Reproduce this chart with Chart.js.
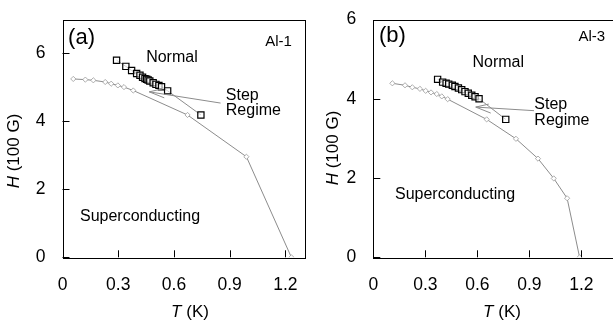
<!DOCTYPE html>
<html>
<head>
<meta charset="utf-8">
<script src="https://cdn.jsdelivr.net/npm/chart.js@4/dist/chart.umd.min.js"></script>
<style>
  html, body { margin: 0; padding: 0; background: #fff; overflow: hidden; }
  .wrap { position: relative; width: 613px; height: 322px; overflow: hidden; }
  .panel { position: absolute; top: 0; height: 322px; }
  #panelA { left: 0; width: 310px; }
  #panelB { left: 305px; width: 320px; }
</style>
</head>
<body>
<div class="wrap">
  <div class="panel" id="panelA"><canvas id="chartA"></canvas></div>
  <div class="panel" id="panelB"><canvas id="chartB"></canvas></div>
</div>
<script>
// ── Data ──
// Panel (a), sample Al-1
const aCurveT  = [0.058, 0.123, 0.166, 0.230, 0.262, 0.298, 0.331, 0.381, 0.673, 0.990, 1.232];
const aCurveH  = [5.25, 5.23, 5.21, 5.16, 5.11, 5.06, 5.01, 4.91, 4.19, 2.96, 0.0];
const aStepT   = [0.291, 0.341, 0.372, 0.399, 0.417, 0.431, 0.444, 0.453, 0.461, 0.470, 0.488, 0.503, 0.519, 0.533, 0.566, 0.745];
const aStepH   = [5.80, 5.62, 5.50, 5.41, 5.36, 5.30, 5.26, 5.24, 5.22, 5.19, 5.14, 5.09, 5.06, 5.02, 4.90, 4.19];

// Panel (b), sample Al-3
const bCurveT  = [0.110, 0.183, 0.225, 0.269, 0.302, 0.333, 0.366, 0.395, 0.429, 0.654, 0.823, 0.950, 1.041, 1.118, 1.190];
const bCurveH  = [4.39, 4.34, 4.29, 4.25, 4.20, 4.16, 4.12, 4.06, 3.99, 3.48, 2.99, 2.49, 1.99, 1.49, 0.0];
const bStepT   = [0.371, 0.400, 0.420, 0.435, 0.456, 0.471, 0.491, 0.510, 0.529, 0.548, 0.568, 0.587, 0.610, 0.764];
const bStepH   = [4.49, 4.42, 4.39, 4.37, 4.34, 4.31, 4.27, 4.23, 4.18, 4.14, 4.09, 4.05, 4.00, 3.48];

const xTickValues = [0, 0.3, 0.6, 0.9, 1.2];
const xTickLabels = ['0', '0.3', '0.6', '0.9', '1.2'];
const yTickValues = [0, 2, 4, 6];

const FONT = '"Liberation Sans", Arial, Helvetica, sans-serif';
const GREY = '#8c8c8c';

const toXY = (ts, hs) => ts.map((t, i) => ({ x: t, y: hs[i] }));

// ── Frame, inward ticks, labels and the step-regime pointer ──
const decorPlugin = {
  id: 'decor',
  afterDraw(chart, args, o) {
    const { ctx, chartArea: a, scales: { x, y } } = chart;
    ctx.save();

    // box round the plot
    ctx.strokeStyle = '#000';
    ctx.lineWidth = 1;
    ctx.strokeRect(Math.round(a.left) + 0.5, Math.round(a.top) + 0.5,
                   Math.round(a.right - a.left), Math.round(a.bottom - a.top));

    // inward tick marks on left and bottom axes
    ctx.beginPath();
    xTickValues.forEach(v => {
      const px = Math.round(x.getPixelForValue(v)) + 0.5;
      ctx.moveTo(px, a.bottom); ctx.lineTo(px, a.bottom - 7);
    });
    yTickValues.forEach(v => {
      const py = Math.round(y.getPixelForValue(v)) + 0.5;
      ctx.moveTo(a.left, py); ctx.lineTo(a.left + 7, py);
    });
    ctx.stroke();

    // text annotations (positions in data units)
    ctx.fillStyle = '#000';
    ctx.textBaseline = 'middle';
    o.texts.forEach(tx => {
      ctx.font = tx.size + 'px ' + FONT;
      ctx.textAlign = tx.align || 'left';
      ctx.fillText(tx.text, x.getPixelForValue(tx.t), y.getPixelForValue(tx.h));
    });

    // pointer line + small wedge arrowhead
    const p = o.pointer;
    const tipX = x.getPixelForValue(p.tip[0]), tipY = y.getPixelForValue(p.tip[1]);
    const endX = x.getPixelForValue(p.end[0]), endY = y.getPixelForValue(p.end[1]);
    ctx.strokeStyle = GREY;
    ctx.beginPath();
    ctx.moveTo(endX, endY); ctx.lineTo(tipX, tipY);
    ctx.lineTo(tipX + 13, tipY - 3);
    ctx.moveTo(tipX, tipY); ctx.lineTo(tipX + 15, tipY + 6);
    ctx.stroke();

    // axis titles with italic symbols
    ctx.fillStyle = '#000';
    ctx.textAlign = 'left';
    const drawMixed = (parts, cx, cy) => {
      let w = 0;
      parts.forEach(pt => { ctx.font = pt[1] + '17px ' + FONT; w += ctx.measureText(pt[0]).width; });
      let cur = cx - w / 2;
      parts.forEach(pt => {
        ctx.font = pt[1] + '17px ' + FONT;
        ctx.fillText(pt[0], cur, cy);
        cur += ctx.measureText(pt[0]).width;
      });
    };
    drawMixed([['T', 'italic '], [' (K)', '']], o.xTitle[0], o.xTitle[1]);
    ctx.save();
    ctx.translate(o.yTitle[0], o.yTitle[1]);
    ctx.rotate(-Math.PI / 2);
    drawMixed([['H', 'italic '], [' (100 G)', '']], 0, 0);
    ctx.restore();

    ctx.restore();
  }
};

function makePanel(canvasId, cfg) {
  new Chart(document.getElementById(canvasId), {
    type: 'scatter',
    data: {
      datasets: [
        {
          data: toXY(cfg.curveT, cfg.curveH),
          showLine: true,
          borderColor: GREY,
          borderWidth: 1,
          pointStyle: 'rectRot',
          pointRadius: 2.6,
          pointBorderColor: '#9a9a9a',
          pointBackgroundColor: '#fff',
          pointBorderWidth: 0.8
        },
        {
          data: toXY(cfg.stepT, cfg.stepH),
          showLine: true,
          borderColor: GREY,
          borderWidth: 1,
          pointStyle: 'rect',
          pointRadius: 4.4,
          pointBorderColor: '#000',
          pointBackgroundColor: 'rgba(255,255,255,0.6)',
          pointBorderWidth: 1.2
        }
      ]
    },
    options: {
      responsive: false,
      animation: false,
      events: [],
      layout: { padding: cfg.padding },
      plugins: {
        legend: { display: false },
        tooltip: { enabled: false },
        decor: cfg.decor
      },
      scales: {
        x: {
          type: 'linear',
          min: 0, max: cfg.xMax,
          grid: { display: false },
          border: { display: false },
          afterBuildTicks: s => { s.ticks = xTickValues.map(v => ({ value: v })); },
          afterFit: s => { s.height = cfg.xAxisH; },
          ticks: {
            padding: 9,
            color: '#000',
            font: { family: FONT, size: 17.5 },
            maxRotation: 0,
            callback: v => xTickLabels[xTickValues.indexOf(v)] ?? ''
          }
        },
        y: {
          min: 0, max: cfg.yMax,
          grid: { display: false },
          border: { display: false },
          afterBuildTicks: s => { s.ticks = yTickValues.map(v => ({ value: v })); },
          afterFit: s => { s.width = cfg.yAxisW; },
          ticks: {
            padding: 9,
            color: '#000',
            font: { family: FONT, size: 17.5 }
          }
        }
      }
    },
    plugins: [decorPlugin]
  });
}

function sizeCanvas(id, w, h) {
  const c = document.getElementById(id);
  c.width = w; c.height = h;
  c.style.width = w + 'px'; c.style.height = h + 'px';
}

sizeCanvas('chartA', 310, 322);
sizeCanvas('chartB', 320, 322);

makePanel('chartA', {
  curveT: aCurveT, curveH: aCurveH, stepT: aStepT, stepH: aStepH,
  xMax: 1.3, yMax: 7,
  padding: { top: 15, right: 6, left: 0, bottom: 0 },
  yAxisW: 62.5, xAxisH: 64.7,
  decor: {
    texts: [
      { text: '(a)', t: 0.030, h: 6.45, size: 22 },
      { text: 'Al-1', t: 1.235, h: 6.33, size: 15, align: 'right' },
      { text: 'Normal', t: 0.589, h: 5.89, size: 16, align: 'center' },
      { text: 'Step', t: 0.879, h: 4.76, size: 16 },
      { text: 'Regime', t: 0.879, h: 4.31, size: 16 },
      { text: 'Superconducting', t: 0.094, h: 1.19, size: 16 }
    ],
    pointer: { tip: [0.467, 4.87], end: [0.851, 4.54] },
    xTitle: [190, 312],
    yTitle: [14, 151]
  }
});

makePanel('chartB', {
  curveT: bCurveT, curveH: bCurveH, stepT: bStepT, stepH: bStepH,
  xMax: 1.4, yMax: 6,
  padding: { top: 15, right: 9, left: 0, bottom: 0 },
  yAxisW: 68.3, xAxisH: 64.7,
  decor: {
    texts: [
      { text: '(b)', t: 0.033, h: 5.58, size: 22 },
      { text: 'Al-3', t: 1.337, h: 5.56, size: 15, align: 'right' },
      { text: 'Normal', t: 0.721, h: 4.91, size: 16, align: 'center' },
      { text: 'Step', t: 0.929, h: 3.86, size: 16 },
      { text: 'Regime', t: 0.929, h: 3.46, size: 16 },
      { text: 'Superconducting', t: 0.125, h: 1.59, size: 16 }
    ],
    pointer: { tip: [0.591, 3.79], end: [0.927, 3.70] },
    xTitle: [197, 312],
    yTitle: [28, 148]
  }
});
</script>
</body>
</html>
